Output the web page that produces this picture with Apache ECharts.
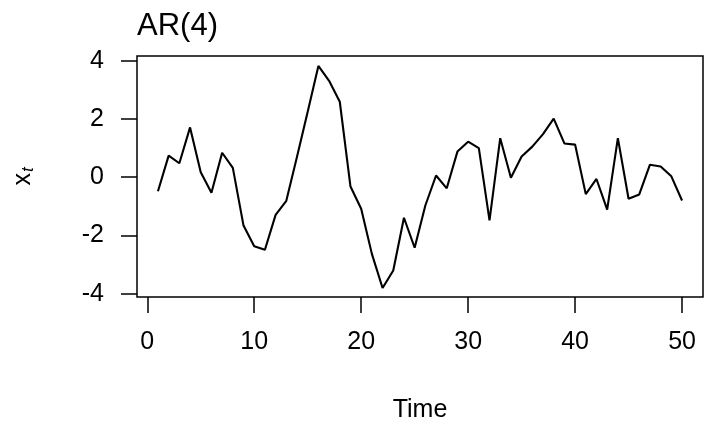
<!DOCTYPE html>
<html>
<head>
<meta charset="utf-8">
<script src="https://cdn.jsdelivr.net/npm/echarts@6/dist/echarts.min.js"></script>
<style>
html,body{margin:0;padding:0;background:#fff;}
#chart{width:704px;height:425px;}
</style>
</head>
<body>
<div id="chart"></div>
<script>
var timeSteps = [1,2,3,4,5,6,7,8,9,10,11,12,13,14,15,16,17,18,19,20,21,22,23,24,25,26,27,28,29,30,31,32,33,34,35,36,37,38,39,40,41,42,43,44,45,46,47,48,49,50];
var xtValues = [-0.48,0.74,0.48,1.71,0.17,-0.53,0.84,0.32,-1.66,-2.37,-2.49,-1.29,-0.81,0.70,2.25,3.82,3.31,2.59,-0.32,-1.08,-2.63,-3.80,-3.20,-1.39,-2.42,-0.97,0.06,-0.38,0.88,1.22,1.00,-1.48,1.34,-0.02,0.71,1.05,1.48,2.01,1.16,1.12,-0.58,-0.06,-1.11,1.34,-0.74,-0.59,0.43,0.37,0.03,-0.80];
var xTickLabels = [0,10,20,30,40,50];
var yTickLabels = [-4,-2,0,2,4];

var points = timeSteps.map(function(t,i){return [t, xtValues[i]];});
var font = 'Liberation Sans, Arial, Helvetica, sans-serif';

var chart = echarts.init(document.getElementById('chart'), null, {renderer:'canvas'});
chart.setOption({
  animation:false,
  backgroundColor:'#fff',
  title:{
    text:'AR(4)', left:137, top:11, padding:0,
    textStyle:{fontFamily:font, fontSize:31, fontWeight:'normal', color:'#000'}
  },
  grid:{left:137, right:1, top:56, bottom:128, containLabel:false, outerBoundsMode:'none',
    show:true, borderColor:'#000', borderWidth:1.5, backgroundColor:'transparent'},
  xAxis:{
    type:'value', min:-0.96, max:51.96,
    name:'Time', nameLocation:'middle', nameGap:101,
    nameTextStyle:{fontFamily:font, fontSize:25, color:'#000'},
    axisLine:{show:false, onZero:false},
    splitLine:{show:false},
    axisTick:{show:true, length:16, lineStyle:{color:'#000', width:1.5}, customValues:xTickLabels},
    axisLabel:{margin:33, fontFamily:font, fontSize:25, color:'#000', customValues:xTickLabels}
  },
  yAxis:{
    type:'value', min:-4.11, max:4.16,
    name:'{a|x}{b|t}', nameLocation:'middle', nameGap:100, nameRotate:90,
    nameTextStyle:{fontFamily:font, fontSize:25, color:'#000',
      rich:{a:{fontFamily:font, fontSize:25, color:'#000'}, b:{fontFamily:font, fontSize:17, fontStyle:'italic', color:'#000', padding:[11,0,0,1]}}},
    axisLine:{show:false, onZero:false},
    splitLine:{show:false},
    axisTick:{show:true, length:16, lineStyle:{color:'#000', width:1.5}, customValues:yTickLabels},
    axisLabel:{margin:33, fontFamily:font, fontSize:25, color:'#000', customValues:yTickLabels}
  },
  series:[{
    type:'line', data:points, showSymbol:false, symbol:'none',
    lineStyle:{color:'#000', width:2.1}, z:3
  }]
});
</script>
</body>
</html>
